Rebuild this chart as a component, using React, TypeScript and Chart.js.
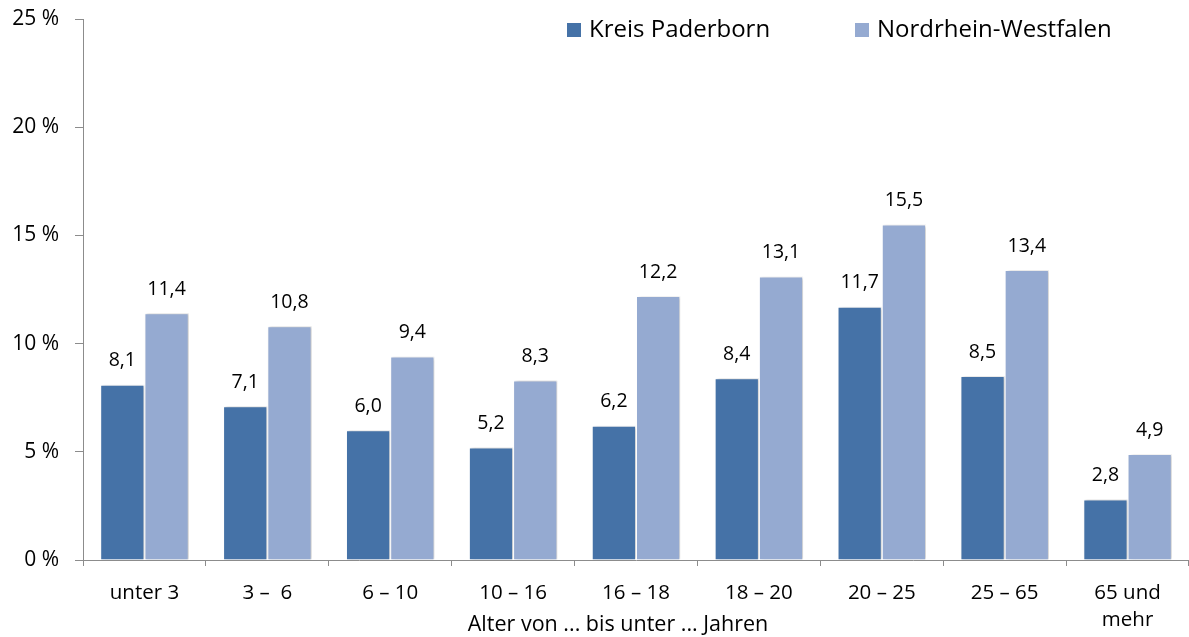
import React, { useEffect, useRef } from "react";
import { Chart, registerables } from "chart.js";

Chart.register(...registerables);

const categories: (string | string[])[] = ["unter 3", "3 –  6", "6 – 10", "10 – 16", "16 – 18", "18 – 20", "20 – 25", "25 – 65", ["65 und", "mehr"]];
const paderborn = [8.1, 7.1, 6.0, 5.2, 6.2, 8.4, 11.7, 8.5, 2.8];
const nrw = [11.4, 10.8, 9.4, 8.3, 12.2, 13.1, 15.5, 13.4, 4.9];
const seriesNames = ["Kreis Paderborn", "Nordrhein-Westfalen"];
const yTicks = [0, 5, 10, 15, 20, 25];
const xTitle = "Alter von ... bis unter ... Jahren";

const FONT = "'Open Sans', sans-serif";
const COLORS = ["#4572A7", "#95AAD1"];

export default function App() {
  const ref = useRef<HTMLCanvasElement>(null);
  useEffect(() => {
    document.body.style.margin = "0";
    const canvas = ref.current!;
    const labelsPlugin = {
      id: "extras",
      beforeDatasetsDraw(chart: any) {
        const ctx = chart.ctx;
        ctx.save();
        ctx.shadowColor = "rgba(0,0,0,0.22)";
        ctx.shadowBlur = 3;
        ctx.shadowOffsetX = 2;
        ctx.shadowOffsetY = 0;
      },
      afterDatasetsDraw(chart: any) {
        const ctx = chart.ctx;
        ctx.restore();
        ctx.save();
        ctx.fillStyle = "#000";
        ctx.font = `19.5px ${FONT}`;
        ctx.textAlign = "center";
        ctx.textBaseline = "middle";
        chart.data.datasets.forEach((ds: any, i: number) => {
          const meta = chart.getDatasetMeta(i);
          meta.data.forEach((bar: any, j: number) => {
            const v = ds.data[j] as number;
            ctx.fillText(v.toFixed(1).replace(".", ","), bar.x, bar.y - 24);
          });
        });
        // legend
        ctx.textAlign = "left";
        ctx.font = `24px ${FONT}`;
        const lx = [567, 855];
        seriesNames.forEach((n, i) => {
          ctx.fillStyle = COLORS[i];
          ctx.fillRect(lx[i], 23, 14, 14);
          ctx.fillStyle = "#000";
          ctx.fillText(n, lx[i] + 22, 30);
        });
        // x title
        ctx.textAlign = "center";
        ctx.font = `21.5px ${FONT}`;
        ctx.fillText(xTitle, 618, 625);
        ctx.restore();
      },
    };
    const chart = new Chart(canvas, {
      type: "bar",
      data: {
        labels: categories,
        datasets: [
          { label: seriesNames[0], data: paderborn, backgroundColor: COLORS[0], borderColor: "#ffffff", borderWidth: 1, categoryPercentage: 0.72, barPercentage: 1 },
          { label: seriesNames[1], data: nrw, backgroundColor: COLORS[1], borderColor: "#ffffff", borderWidth: 1, categoryPercentage: 0.72, barPercentage: 1 },
        ],
      },
      options: {
        animation: false,
        responsive: false,
        maintainAspectRatio: false,
        layout: { padding: { top: 19, right: 0, left: 0, bottom: 0 } },
        plugins: { legend: { display: false }, tooltip: { enabled: false } },
        scales: {
          x: {
            grid: { drawOnChartArea: false, drawTicks: true, tickLength: 6, color: "#8c8c8c", offset: true },
            border: { color: "#8c8c8c", width: 1 },
            ticks: { color: "#000", font: { family: FONT, size: 20.5, lineHeight: 1.35 }, padding: 13, maxRotation: 0, autoSkip: false },
            afterFit(scale: any) { scale.height = 77; scale.paddingLeft = 0; scale.paddingRight = 0; },
          },
          y: {
            min: 0,
            max: 25,
            afterBuildTicks(scale: any) { scale.ticks = yTicks.map((v) => ({ value: v })); },
            grid: { drawOnChartArea: false, drawTicks: true, tickLength: 8, color: "#8c8c8c" },
            border: { color: "#8c8c8c", width: 1 },
            ticks: { color: "#000", font: { family: FONT, size: 21 }, padding: 16, callback: (v: any) => `${v} %` },
            afterFit(scale: any) { scale.width = 83; scale.paddingTop = 0; scale.paddingBottom = 0; },
          },
        },
      },
      plugins: [labelsPlugin],
    });
    return () => chart.destroy();
  }, []);
  return (
    <div style={{ width: 1189, height: 637 }}>
      <canvas ref={ref} width={1189} height={637} style={{ display: "block" }} />
    </div>
  );
}
